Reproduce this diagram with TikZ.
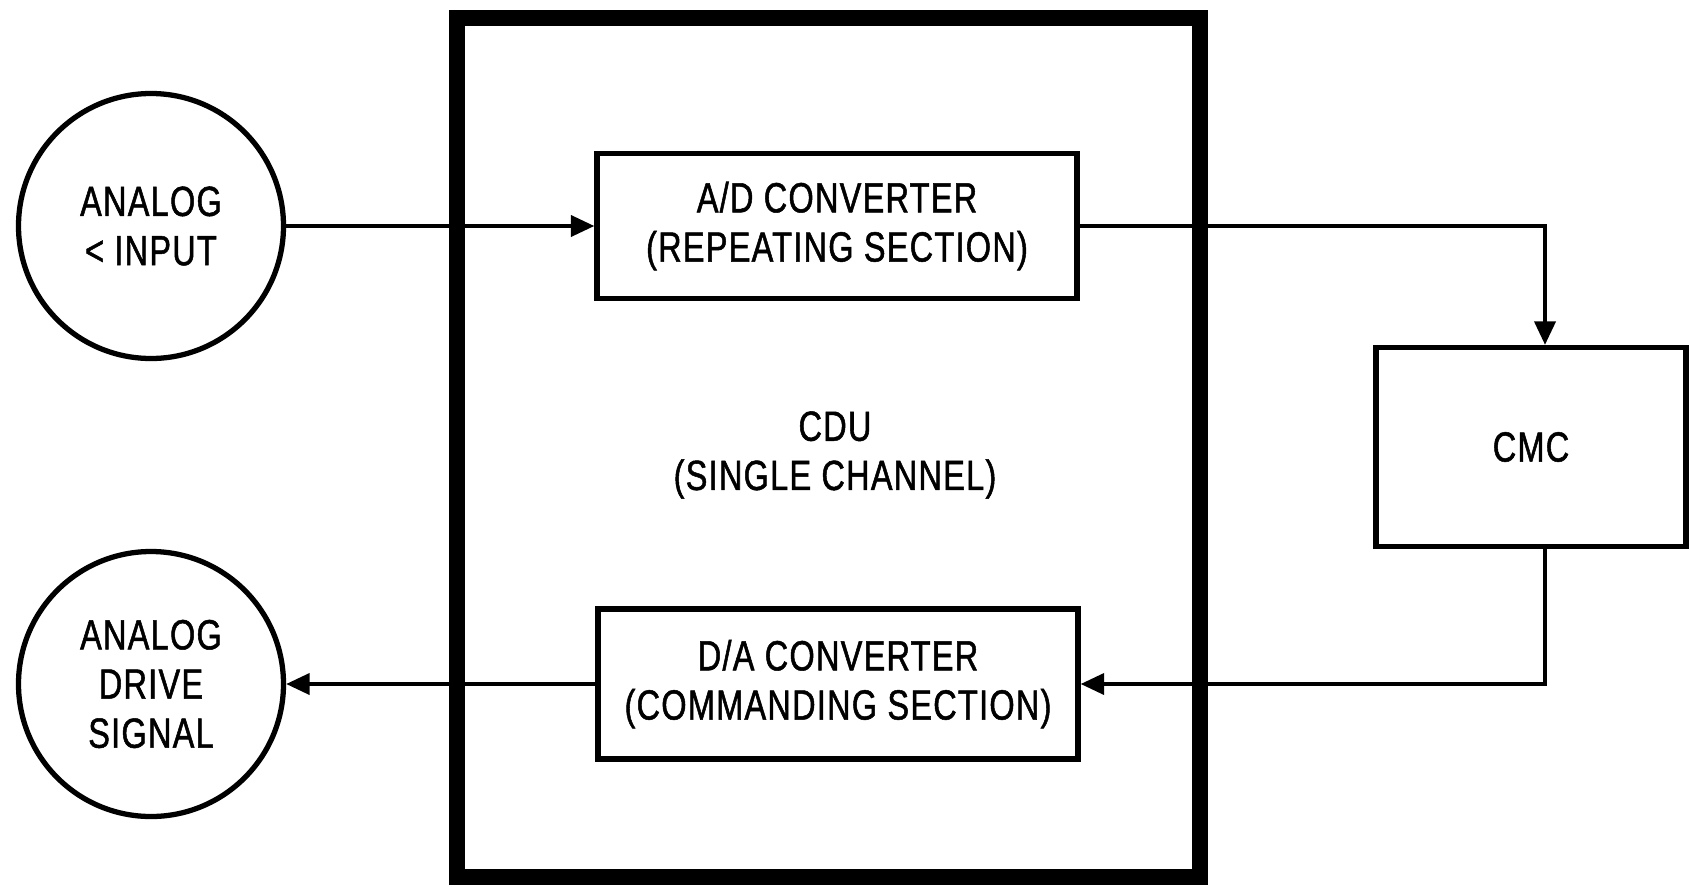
\documentclass[tikz,border=0pt]{standalone}
\usepackage{fontspec}
\setmainfont{Liberation Sans}[FakeStretch=0.77, LetterSpace=3, FakeBold=1.2]
\usetikzlibrary{arrows.meta, positioning}
\tikzset{
    normal/.style={draw, line width=3pt},
    txt/.style={align=center, font=\fontsize{24}{28}\selectfont},
    n/.style={style=normal, style=txt, circle, inner sep=0pt, minimum size=5.3cm}, % signal ends
    l/.style={style=normal, style=txt, inner sep=0pt, minimum width=9.6cm, minimum height=2.9cm}, % converter boxes
    unit/.style={draw, line width=9.6pt, inner sep=0pt}, % cdu outline
    e/.style={draw, line width=2.2pt, -{Triangle[length=0.47cm, width=0.42cm]}} % signal lines
}

\begin{document}
\begin{tikzpicture}
        \useasboundingbox (0,0) rectangle (33.78,-17.72);
        \node[unit, minimum width=14.86cm, minimum height=17.18cm] (cdubox) at (16.57,-8.95) {};
        \node[txt] (cdu) at (16.7,-9.1) {CDU\\(SINGLE CHANNEL)};

        \node[n] (input) at (3.02,-4.52) {ANALOG\\< INPUT};
        \node[n] (drive) at (3.02,-13.68) {ANALOG\\DRIVE\\SIGNAL};
        \node[l] (ad) at (16.74,-4.52) {A/D CONVERTER\\(REPEATING SECTION)};
        \node[l, minimum height=3cm] (da) at (16.76,-13.68) {D/A CONVERTER\\(COMMANDING SECTION)};
        \node[style=normal, style=txt, minimum width=6.2cm, minimum height=3.98cm] (cmc) at (30.62,-8.94) {CMC};

        \draw[e] (input) -- (ad);
        \draw[e] (ad.east) -| ([xshift=0.28cm]cmc.north);
        \draw[e] ([xshift=0.28cm]cmc.south) |- (da.east);
        \draw[e] (da) -- (drive);
      \end{tikzpicture}
\end{document}
